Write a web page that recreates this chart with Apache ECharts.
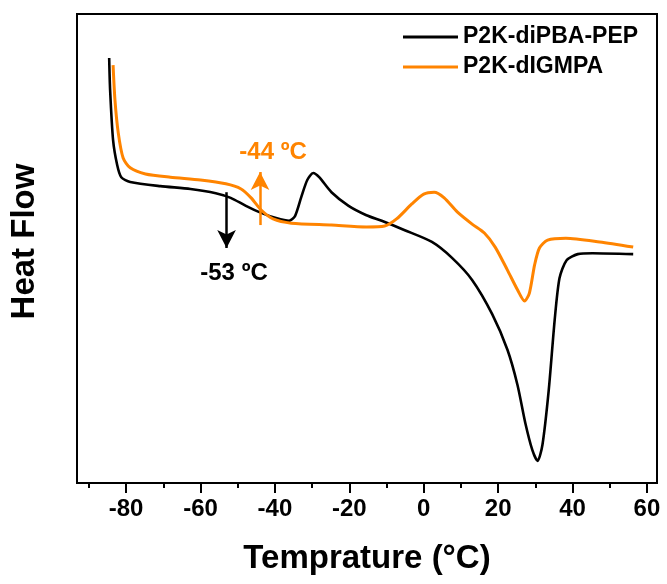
<!DOCTYPE html>
<html>
<head>
<meta charset="utf-8">
<script src="https://cdn.jsdelivr.net/npm/echarts@6/dist/echarts.min.js"></script>
<style>html,body{margin:0;padding:0;background:#fff}#c{width:667px;height:584px}</style>
</head>
<body>
<div id="c"></div>
<script>
// Temperature (°C) and heat flow (a.u.)
var blackT = [-84.55,-84.3,-83.5,-82.4,-81.3,-78.9,-70.8,-62.7,-55.9,-51.9,-47.8,-43.7,-39.7,-36.2,-34.6,-32.9,-31.3,-29.7,-28.1,-24.8,-20.2,-15.4,-11.3,-5.1,2.2,7.6,13.0,18.4,22.5,25.2,27.3,29.2,30.6,31.9,33.6,35.2,36.5,38.4,41.4,45.4,56.3];
var blackV = [90.6,83.8,73.1,67.8,65.2,64.2,63.3,62.7,61.8,60.8,59.1,57.6,56.5,55.9,56.9,61.0,64.6,66.1,65.2,62.0,59.1,57.1,55.9,53.9,51.4,48.0,43.3,36.0,28.4,20.9,12.8,7.0,4.7,8.1,19.8,34.8,43.7,47.5,48.8,49.0,48.8];
var orangeT = [-83.5,-83.0,-82.1,-80.8,-78.9,-74.8,-68.1,-60.0,-53.2,-49.1,-46.4,-43.7,-40.5,-35.6,-24.8,-15.4,-10.5,-7.3,-3.2,0.0,2.8,5.5,9.0,13.0,16.3,19.2,22.5,25.2,27.1,28.4,29.8,31.1,33.3,38.2,47.3,56.3];
var orangeV = [89.1,81.7,74.6,69.3,67.2,65.9,65.2,64.6,63.8,62.7,60.8,58.2,56.3,55.4,55.0,54.6,54.8,56.3,59.5,61.6,62.0,60.8,57.8,55.2,53.3,50.3,45.4,41.2,38.8,40.5,46.5,50.1,51.8,52.2,51.4,50.3];
var seriesNames = ['P2K-diPBA-PEP', 'P2K-dIGMPA'];
var majorTicks = [-80,-60,-40,-20,0,20,40,60];
var minorTicks = [-90,-70,-50,-30,-10,10,30,50];
// annotations: Tg arrows (temperature, from value, to value) and labels
var tgBlack = {t: -53, from: 62.0, to: 50.1, label: '-53 ºC', lt: -51.0, lv: 44.8};
var tgOrange = {t: -44, from: 55.0, to: 66.3, label: '-44 ºC', lt: -40.5, lv: 70.4};

var BLACK = '#000000', ORANGE = '#ff8400';
var font = 'Liberation Sans, Arial, sans-serif';

function pairs(t, v) { return t.map(function (x, i) { return [x, v[i]]; }); }

var chart = echarts.init(document.getElementById('c'), null, {renderer: 'canvas'});
chart.setOption({
  animation: false,
  backgroundColor: '#fff',
  grid: {left: 77, right: 10, top: 14, bottom: 101, show: true, borderColor: '#000', borderWidth: 2, backgroundColor: 'transparent'},
  legend: {
    left: 403, top: 24, orient: 'vertical', padding: 0, icon: 'rect', itemWidth: 55, itemHeight: 3, itemGap: 4,
    textStyle: {fontFamily: font, fontWeight: 'bold', fontSize: 23, color: '#000', lineHeight: 26},
    data: seriesNames
  },
  xAxis: [{
    type: 'value', min: -93.2, max: 62.7,
    name: 'Temprature (°C)', nameLocation: 'middle', nameGap: 59,
    nameTextStyle: {fontFamily: font, fontWeight: 'bold', fontSize: 33, color: '#000'},
    axisLine: {show: true, onZero: false, lineStyle: {color: '#000', width: 2}},
    axisTick: {show: true, customValues: majorTicks, length: 10, lineStyle: {color: '#000', width: 2}},
    axisLabel: {show: true, customValues: majorTicks, margin: 14, fontFamily: font, fontWeight: 'bold', fontSize: 24, color: '#000'},
    splitLine: {show: false}
  }, {
    type: 'value', min: -93.2, max: 62.7, position: 'bottom',
    axisLine: {show: false, onZero: false},
    axisTick: {show: true, customValues: minorTicks, length: 5, lineStyle: {color: '#000', width: 2}},
    axisLabel: {show: false},
    splitLine: {show: false}
  }],
  yAxis: {
    type: 'value', min: 0, max: 100,
    name: 'Heat Flow', nameLocation: 'middle', nameGap: 36, nameRotate: 90,
    nameTextStyle: {fontFamily: font, fontWeight: 'bold', fontSize: 33, color: '#000', padding: [0, 0, 0, 14]},
    axisLine: {show: true, onZero: false, lineStyle: {color: '#000', width: 2}},
    axisTick: {show: false}, axisLabel: {show: false}, splitLine: {show: false}
  },
  series: [{
    name: seriesNames[0], type: 'line', data: pairs(blackT, blackV), smooth: 0.25,
    showSymbol: false, symbol: 'none', color: BLACK,
    lineStyle: {color: BLACK, width: 2.6},
    markLine: {
      silent: true, symbol: ['none', 'arrow'], symbolSize: [14, 18],
      lineStyle: {color: BLACK, width: 2.5, type: 'solid'},
      label: {show: false},
      data: [[{coord: [tgBlack.t, tgBlack.from]}, {coord: [tgBlack.t, tgBlack.to]}]]
    },
    markPoint: {
      silent: true, symbol: 'circle', symbolSize: 0,
      label: {show: true, formatter: '{b}', fontFamily: font, fontWeight: 'bold', fontSize: 24, color: BLACK, position: 'inside'},
      data: [{name: tgBlack.label, coord: [tgBlack.lt, tgBlack.lv]}]
    }
  }, {
    name: seriesNames[1], type: 'line', data: pairs(orangeT, orangeV), smooth: 0.25,
    showSymbol: false, symbol: 'none', color: ORANGE,
    lineStyle: {color: ORANGE, width: 3},
    markLine: {
      silent: true, symbol: ['none', 'arrow'], symbolSize: [14, 18],
      lineStyle: {color: ORANGE, width: 2.5, type: 'solid'},
      label: {show: false},
      data: [[{coord: [tgOrange.t, tgOrange.from]}, {coord: [tgOrange.t, tgOrange.to]}]]
    },
    markPoint: {
      silent: true, symbol: 'circle', symbolSize: 0,
      label: {show: true, formatter: '{b}', fontFamily: font, fontWeight: 'bold', fontSize: 24, color: ORANGE, position: 'inside'},
      data: [{name: tgOrange.label, coord: [tgOrange.lt, tgOrange.lv]}]
    }
  }]
});
</script>
</body>
</html>
